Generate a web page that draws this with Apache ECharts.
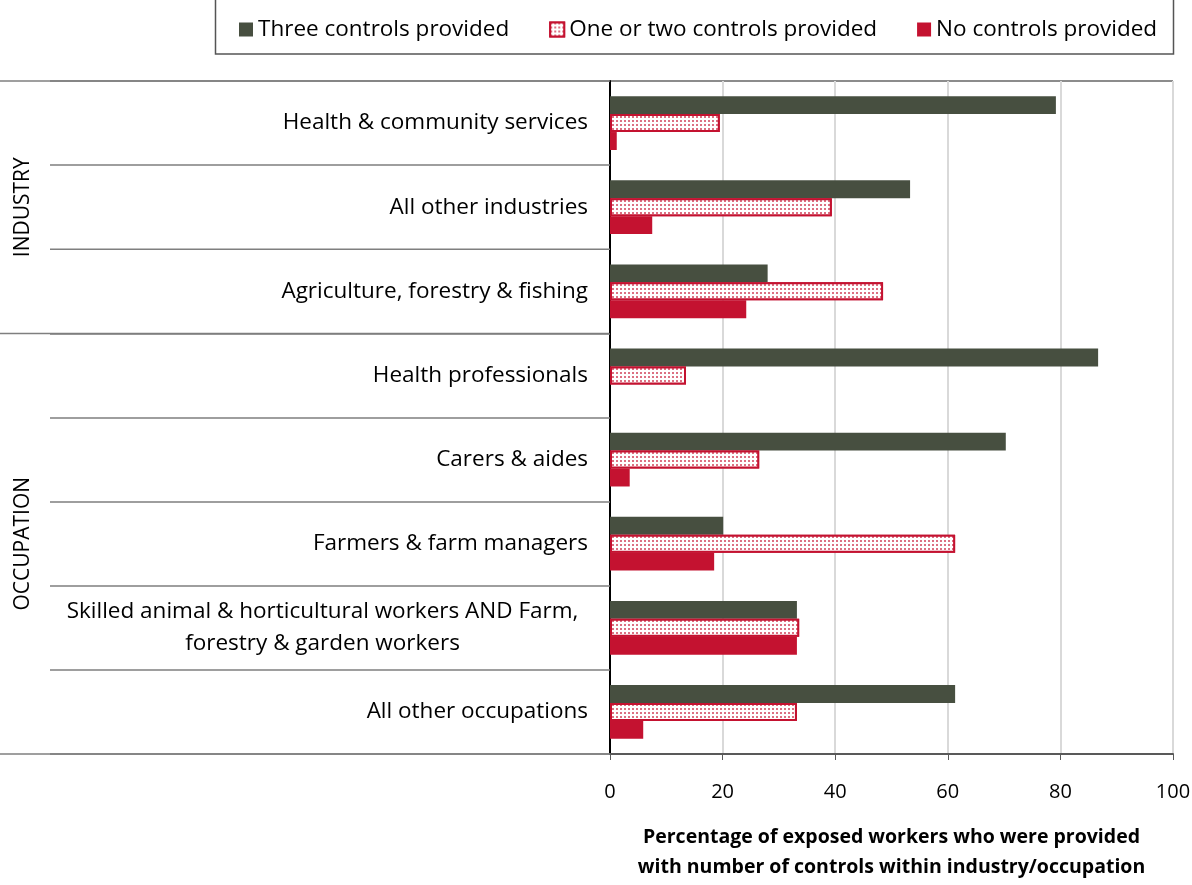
<!DOCTYPE html>
<html>
<head>
<meta charset="utf-8">
<script src="https://cdn.jsdelivr.net/npm/echarts@6/dist/echarts.min.js"></script>
<style>
  html, body { margin: 0; padding: 0; background: #fff; }
  #main { width: 1192px; height: 885px; }
</style>
</head>
<body>
<div id="main"></div>
<script>
// categories top to bottom
var categories = [
  'Health & community services',
  'All other industries',
  'Agriculture, forestry & fishing',
  'Health professionals',
  'Carers & aides',
  'Farmers & farm managers',
  'Skilled animal & horticultural workers AND Farm,\nforestry & garden workers',
  'All other occupations'
];
var seriesNames = ['Three controls provided', 'One or two controls provided', 'No controls provided'];
var threeControls = [79.2, 53.3, 28.0, 86.7, 70.3, 20.1, 33.2, 61.3];
var oneOrTwo = [19.5, 39.4, 48.5, 13.5, 26.5, 61.3, 33.6, 33.2];
var noControls = [1.2, 7.5, 24.2, 0, 3.5, 18.5, 33.2, 5.9];
var xTicks = [0, 20, 40, 60, 80, 100];
var groups = [
  { name: 'INDUSTRY', from: 0, to: 3 },
  { name: 'OCCUPATION', from: 3, to: 8 }
];

var dark = '#474f40';
var red = '#c41230';
var labelFont = '"Open Sans", Lato, sans-serif';

var gridTop = 81, gridLeft = 610, gridRight = 19, gridBottom = 131;
var plotH = 885 - gridTop - gridBottom;
var band = plotH / categories.length;

var myChart = echarts.init(document.getElementById('main'));

// separator lines for the group column and frame
var graphics = [];
// legend box
graphics.push({
  type: 'rect',
  shape: { x: 215.5, y: -5, width: 958, height: 59 },
  style: { fill: 'none', stroke: '#555', lineWidth: 1.5 }
});
// group boundaries, full width to the left edge
var bounds = [0, 3, 8];
bounds.forEach(function (b) {
  var y = gridTop + b * band;
  graphics.push({
    type: 'line',
    shape: { x1: 0, y1: y, x2: gridLeft, y2: y },
    style: { stroke: '#7f7f7f', lineWidth: 1.5 }
  });
});
// top frame line and right frame line of plot
graphics.push({
  type: 'line',
  shape: { x1: gridLeft, y1: gridTop, x2: 1192 - gridRight, y2: gridTop },
  style: { stroke: '#8c8c8c', lineWidth: 2 }
});
graphics.push({
  type: 'line',
  shape: { x1: 1192 - gridRight, y1: gridTop, x2: 1192 - gridRight, y2: gridTop + plotH },
  style: { stroke: '#8c8c8c', lineWidth: 2 }
});
// rotated group names
groups.forEach(function (g) {
  var cy = gridTop + (g.from + g.to) / 2 * band;
  graphics.push({
    type: 'text',
    x: 23,
    y: cy,
    rotation: Math.PI / 2,
    style: {
      text: g.name,
      fill: '#000',
      font: '21px ' + labelFont,
      align: 'center',
      verticalAlign: 'middle'
    }
  });
});

myChart.setOption({
  animation: false,
  legend: {
    data: seriesNames,
    left: 234,
    top: 13,
    icon: 'rect',
    itemWidth: 14,
    itemHeight: 14,
    itemGap: 40,
    textStyle: { fontSize: 22.5, fontFamily: labelFont, color: '#000' }
  },
  grid: {
    left: gridLeft, right: gridRight, top: gridTop, bottom: gridBottom,
    containLabel: false,
    outerBoundsMode: 'none'
  },
  xAxis: {
    type: 'value',
    min: 0,
    max: 100,
    interval: 20,
    axisLine: { show: true, lineStyle: { color: '#595959', width: 2 } },
    axisTick: { show: true, length: 6, lineStyle: { color: '#595959' } },
    axisLabel: { fontSize: 20, fontFamily: labelFont, color: '#000', margin: 28 },
    splitLine: { lineStyle: { color: '#d9d9d9', width: 2 } },
    name: 'Percentage of exposed workers who were provided\nwith number of controls within industry/occupation',
    nameLocation: 'middle',
    nameGap: 68,
    nameTextStyle: { fontSize: 19.5, fontWeight: 'bold', fontFamily: labelFont, color: '#000', lineHeight: 30, verticalAlign: 'top' }
  },
  yAxis: {
    type: 'category',
    inverse: true,
    data: categories,
    axisLine: { show: true, lineStyle: { color: '#000', width: 2 } },
    axisTick: { show: true, length: 560, lineStyle: { color: '#7f7f7f', width: 1.5 } },
    axisLabel: {
      margin: 22,
      fontSize: 22.5,
      fontFamily: labelFont,
      color: '#000',
      formatter: function (v) {
        if (v.indexOf('\n') >= 0) {
          return v.split('\n').map(function (s) { return '{c|' + s + '}'; }).join('\n');
        }
        return v;
      },
      rich: {
        c: { width: 531, align: 'center', fontSize: 22.5, fontFamily: labelFont, color: '#000', lineHeight: 32 }
      }
    }
  },
  series: [
    {
      name: seriesNames[0],
      type: 'bar',
      data: threeControls,
      barGap: '0%',
      barCategoryGap: '36%',
      itemStyle: { color: dark }
    },
    {
      name: seriesNames[1],
      type: 'bar',
      data: oneOrTwo,
      itemStyle: {
        color: '#fff',
        borderColor: red,
        borderWidth: 2,
        decal: {
          symbol: 'rect',
          symbolSize: 0.8,
          color: red,
          backgroundColor: '#fff',
          dashArrayX: [2, 2],
          dashArrayY: [2, 2],
          rotation: 0
        }
      }
    },
    {
      name: seriesNames[2],
      type: 'bar',
      data: noControls,
      itemStyle: { color: red }
    }
  ],
  graphic: graphics
});
</script>
</body>
</html>
